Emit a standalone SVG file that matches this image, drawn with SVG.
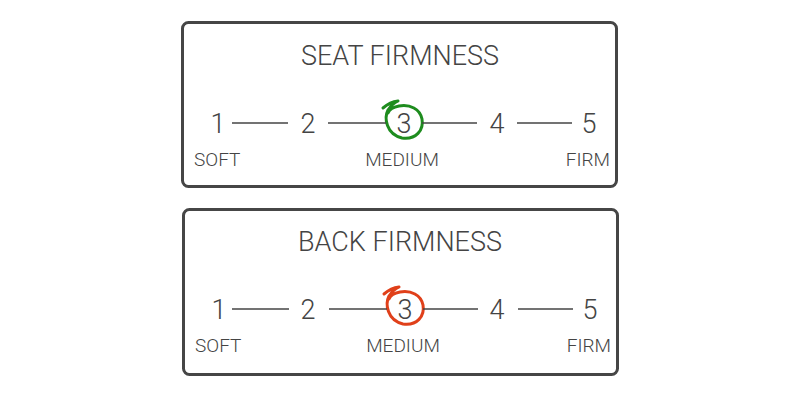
<svg xmlns="http://www.w3.org/2000/svg" width="801" height="400" viewBox="0 0 801 400">
<style>
.box{fill:#fff;stroke:#464646;stroke-width:3}
.t{font-family:Roboto,"Liberation Sans",sans-serif;fill:#444;font-weight:300}
.title{font-size:27px;text-anchor:middle}
.num{font-size:27px;text-anchor:middle}
.lab{font-size:19px}
.ln{stroke:#444;stroke-width:1.6}
.mark{fill:none;stroke-width:3;stroke-linecap:round;stroke-linejoin:round}
</style>
<defs>
<path id="loop" d="M383,108 Q390,102 398,101 Q392,104 388,110 C384,118 386,134 402,138 C416,140 424,130 422,119 C420,109 410,104 399,106 C393,107 389,110 388,113"/>
</defs>
<rect width="801" height="400" fill="#fff"/>
<g id="seat">
<rect class="box" x="182.5" y="22.5" width="434" height="164" rx="6"/>
<text class="t title" x="400" y="65">SEAT FIRMNESS</text>
<text class="t num" x="218" y="133">1</text>
<text class="t num" x="308" y="133">2</text>
<text class="t num" x="404" y="133">3</text>
<text class="t num" x="497" y="133">4</text>
<text class="t num" x="589" y="133">5</text>
<text class="t lab" x="194" y="166">SOFT</text>
<text class="t lab" x="402" y="166" text-anchor="middle">MEDIUM</text>
<text class="t lab" x="610" y="166" text-anchor="end">FIRM</text>
<use href="#loop" class="mark" stroke="#1e8c1e"/>
</g>
<g id="back">
<rect class="box" x="183.5" y="209.5" width="434" height="165" rx="6"/>
<text class="t title" x="400" y="251">BACK FIRMNESS</text>
<text class="t num" x="219" y="319">1</text>
<text class="t num" x="308" y="319">2</text>
<text class="t num" x="405" y="319">3</text>
<text class="t num" x="497" y="319">4</text>
<text class="t num" x="590" y="319">5</text>
<text class="t lab" x="195" y="352">SOFT</text>
<text class="t lab" x="403" y="352" text-anchor="middle">MEDIUM</text>
<text class="t lab" x="611" y="352" text-anchor="end">FIRM</text>
<use href="#loop" class="mark" stroke="#e0401a" transform="translate(1,186)"/>
</g>
<g id="connectors">
<line class="ln" x1="232" y1="123" x2="288" y2="123"/>
<line class="ln" x1="328" y1="123" x2="386" y2="123"/>
<line class="ln" x1="422" y1="123" x2="477" y2="123"/>
<line class="ln" x1="517" y1="123" x2="572" y2="123"/>
<line class="ln" x1="232" y1="309" x2="289" y2="309"/>
<line class="ln" x1="329" y1="309" x2="387" y2="309"/>
<line class="ln" x1="423" y1="309" x2="478" y2="309"/>
<line class="ln" x1="518" y1="309" x2="573" y2="309"/>
</g>
</svg>
